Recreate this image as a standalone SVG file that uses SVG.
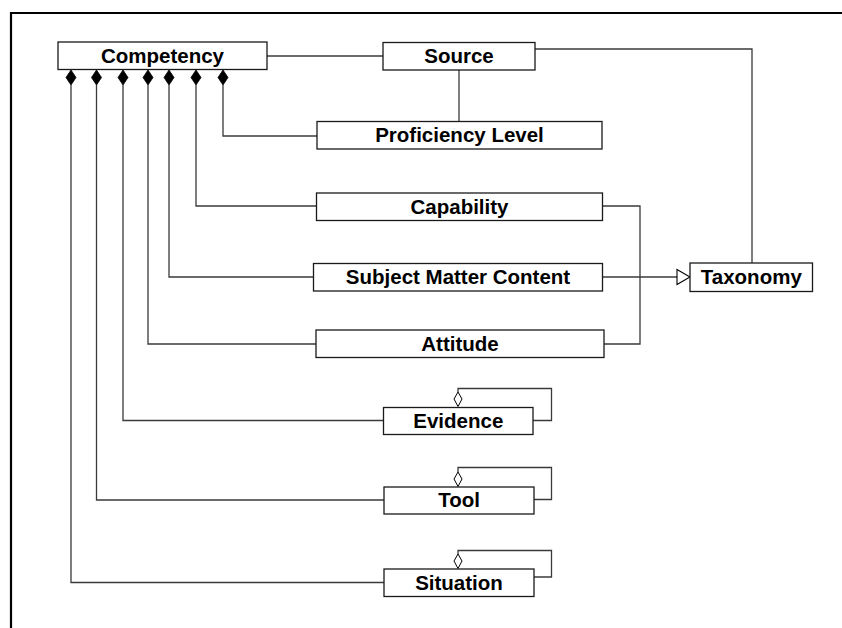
<svg xmlns="http://www.w3.org/2000/svg" width="842" height="628" viewBox="0 0 842 628">
  <style>
    .box { fill: #ffffff; stroke: #1a1a1a; stroke-width: 1.3; }
    .lbl { font-family: "Liberation Sans", Arial, sans-serif; font-weight: bold; font-size: 20.5px; fill: #000; text-anchor: middle; }
    .conn { fill: none; stroke: #3a3a3a; stroke-width: 1.3; }
    .comp { fill: #000; stroke: #000; stroke-width: 0.8; }
    .agg { fill: #fff; stroke: #000; stroke-width: 1; }
    .gen { fill: #fff; stroke: #000; stroke-width: 1.1; }
    .frame { fill: none; stroke: #000; stroke-width: 2.2; }
  </style>

  <!-- page frame -->
  <path class="frame" d="M842,13 H11 V628"/>

  <g id="connectors">
    <!-- Competency - Source association -->
    <path class="conn" d="M267,56 H383"/>
    <!-- Source - Proficiency Level -->
    <path class="conn" d="M459,70 V121"/>
    <!-- Source - Taxonomy -->
    <path class="conn" d="M535,49 H752 V263"/>
    <!-- Composition links from Competency -->
    <path class="conn" d="M223,85 V136 H317"/>
    <path class="conn" d="M196,85 V206 H316"/>
    <path class="conn" d="M169,85 V277 H313"/>
    <path class="conn" d="M148,85 V344 H316"/>
    <path class="conn" d="M123,85 V420.5 H383"/>
    <path class="conn" d="M96.5,85 V500 H384"/>
    <path class="conn" d="M71,85 V582.5 H384"/>
    <!-- generalisation to Taxonomy -->
    <path class="conn" d="M602,206 H640 V344 H604"/>
    <path class="conn" d="M602,277 H677"/>
    <polygon class="gen" points="677,269.5 690,277 677,284.5"/>
    <!-- self aggregation loops -->
    <path class="conn" d="M533,420.5 H551.5 V388.5 H458 V392"/>
    <path class="conn" d="M534,499.5 H551.5 V467.5 H458 V472"/>
    <path class="conn" d="M534,577 H551.5 V550.5 H458 V554"/>
    <polygon class="agg" points="458,392 462,399 458,406.5 454,399"/>
    <polygon class="agg" points="458,472 462,479 458,486.5 454,479"/>
    <polygon class="agg" points="458,554 462,561 458,568.5 454,561"/>
    <!-- composition diamonds under Competency -->
    <polygon class="comp" points="71,70 76,77.5 71,85 66,77.5"/>
    <polygon class="comp" points="96.5,70 101.5,77.5 96.5,85 91.5,77.5"/>
    <polygon class="comp" points="123,70 128,77.5 123,85 118,77.5"/>
    <polygon class="comp" points="148,70 153,77.5 148,85 143,77.5"/>
    <polygon class="comp" points="169,70 174,77.5 169,85 164,77.5"/>
    <polygon class="comp" points="196,70 201,77.5 196,85 191,77.5"/>
    <polygon class="comp" points="223,70 228,77.5 223,85 218,77.5"/>
  </g>

  <g id="competency">
    <rect class="box" x="58" y="42" width="209" height="27.5"/>
    <text class="lbl" x="162.5" y="62.5">Competency</text>
  </g>
  <g id="source">
    <rect class="box" x="383" y="42.5" width="152" height="27.5"/>
    <text class="lbl" x="459" y="63">Source</text>
  </g>
  <g id="proficiency-level">
    <rect class="box" x="317" y="121.5" width="285" height="27.5"/>
    <text class="lbl" x="459.5" y="142">Proficiency Level</text>
  </g>
  <g id="capability">
    <rect class="box" x="316.5" y="193" width="286" height="27.5"/>
    <text class="lbl" x="459.5" y="213.5">Capability</text>
  </g>
  <g id="subject-matter-content">
    <rect class="box" x="313.5" y="263.5" width="289" height="27.5"/>
    <text class="lbl" x="458" y="284">Subject Matter Content</text>
  </g>
  <g id="attitude">
    <rect class="box" x="316" y="330" width="288" height="27.5"/>
    <text class="lbl" x="460" y="350.5">Attitude</text>
  </g>
  <g id="taxonomy">
    <rect class="box" x="690" y="263" width="122.5" height="28.5"/>
    <text class="lbl" x="751.3" y="284">Taxonomy</text>
  </g>
  <g id="evidence">
    <rect class="box" x="383.5" y="407.5" width="149.5" height="27"/>
    <text class="lbl" x="458.3" y="427.5">Evidence</text>
  </g>
  <g id="tool">
    <rect class="box" x="384" y="487" width="150" height="27"/>
    <text class="lbl" x="459" y="507">Tool</text>
  </g>
  <g id="situation">
    <rect class="box" x="384" y="569" width="150" height="27.5"/>
    <text class="lbl" x="459" y="589.5">Situation</text>
  </g>
</svg>
